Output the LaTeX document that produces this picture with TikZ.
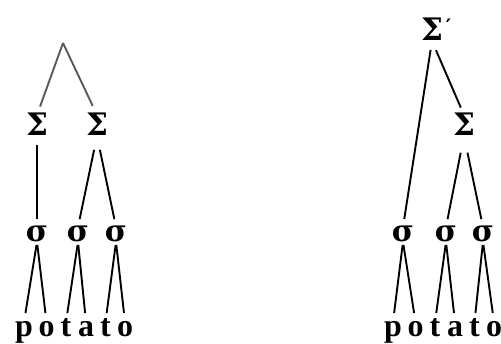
\documentclass[tikz,border=0pt]{standalone}
\usepackage{fontspec}
\setmainfont{Liberation Serif}
\newfontfamily\greekfont{DejaVu Serif}
\begin{document}
\begin{tikzpicture}[x=1pt,y=-1pt,
  glyph/.style={inner sep=0pt, outer sep=0pt, anchor=base},
  bigsig/.style={glyph, font=\greekfont\bfseries\fontsize{31}{31}\selectfont, text height=21pt, text depth=0pt},
  smallsig/.style={glyph, font=\greekfont\bfseries\fontsize{30}{30}\selectfont, text height=15pt, text depth=0pt},
  letter/.style={glyph, font=\bfseries\fontsize{32}{32}\selectfont, text height=15pt, text depth=0pt},
  branch/.style={draw=black, line width=1.9pt},
  topbranch/.style={draw=black!65, line width=1.9pt}]
\useasboundingbox (0,0) rectangle (501,344);
% left tree
\coordinate (top) at (63,43);
\node[bigsig] (LS1) at (37,136) {Σ};
\node[bigsig] (LS2) at (97,136) {Σ};
\node[smallsig] (Ls1) at (37,242) {σ};
\node[smallsig] (Ls2) at (78,242) {σ};
\node[smallsig] (Ls3) at (116,242) {σ};
\node[letter] (Lp)  at (24,337) {p};
\node[letter] (Lo1) at (46.5,337) {o};
\node[letter] (Lt1) at (66,337) {t};
\node[letter] (La)  at (86,337) {a};
\node[letter] (Lt2) at (105.5,337) {t};
\node[letter] (Lo2) at (125,337) {o};
\path[topbranch, shorten >=9pt] (top) -- (LS1.north);
\path[topbranch, shorten >=10pt] (top) -- (LS2.north);
\path[branch, shorten <=9pt, shorten >=8pt] (LS1.south) -- (Ls1.north);
\path[branch, shorten <=14pt, shorten >=8pt] (LS2.south) -- (Ls2.north);
\path[branch, shorten <=14pt, shorten >=8pt] (LS2.south) -- (Ls3.north);
\path[branch, shorten <=3pt, shorten >=9pt] (Ls1.south) -- (Lp.north);
\path[branch, shorten <=3pt, shorten >=9pt] (Ls1.south) -- (Lo1.north);
\path[branch, shorten <=3pt, shorten >=9pt] (Ls2.south) -- (Lt1.north);
\path[branch, shorten <=3pt, shorten >=9pt] (Ls2.south) -- (La.north);
\path[branch, shorten <=3pt, shorten >=9pt] (Ls3.south) -- (Lt2.north);
\path[branch, shorten <=3pt, shorten >=9pt] (Ls3.south) -- (Lo2.north);
% right tree
\node[bigsig] (RSp) at (432,41) {Σ\rlap{\hspace{3pt}\raisebox{7pt}{\fontsize{20}{20}\selectfont ′}}};
\node[bigsig] (RS) at (464,136) {Σ};
\node[smallsig] (Rs1) at (403,242) {σ};
\node[smallsig] (Rs2) at (446,242) {σ};
\node[smallsig] (Rs3) at (483,242) {σ};
\node[letter] (Rp)  at (393,337) {p};
\node[letter] (Ro1) at (415.5,337) {o};
\node[letter] (Rt1) at (435,337) {t};
\node[letter] (Ra)  at (455,337) {a};
\node[letter] (Rt2) at (474.5,337) {t};
\node[letter] (Ro2) at (494,337) {o};
\path[branch, shorten <=9pt, shorten >=8pt] (RSp.south) -- (Rs1.north);
\path[branch, shorten <=10pt, shorten >=8pt] (RSp.south) -- (RS.north);
\path[branch, shorten <=17pt, shorten >=8pt] (RS.south) -- (Rs2.north);
\path[branch, shorten <=17pt, shorten >=8pt] (RS.south) -- (Rs3.north);
\path[branch, shorten <=3pt, shorten >=9pt] (Rs1.south) -- (Rp.north);
\path[branch, shorten <=3pt, shorten >=9pt] (Rs1.south) -- (Ro1.north);
\path[branch, shorten <=3pt, shorten >=9pt] (Rs2.south) -- (Rt1.north);
\path[branch, shorten <=3pt, shorten >=9pt] (Rs2.south) -- (Ra.north);
\path[branch, shorten <=3pt, shorten >=9pt] (Rs3.south) -- (Rt2.north);
\path[branch, shorten <=3pt, shorten >=9pt] (Rs3.south) -- (Ro2.north);
\end{tikzpicture}
\end{document}
